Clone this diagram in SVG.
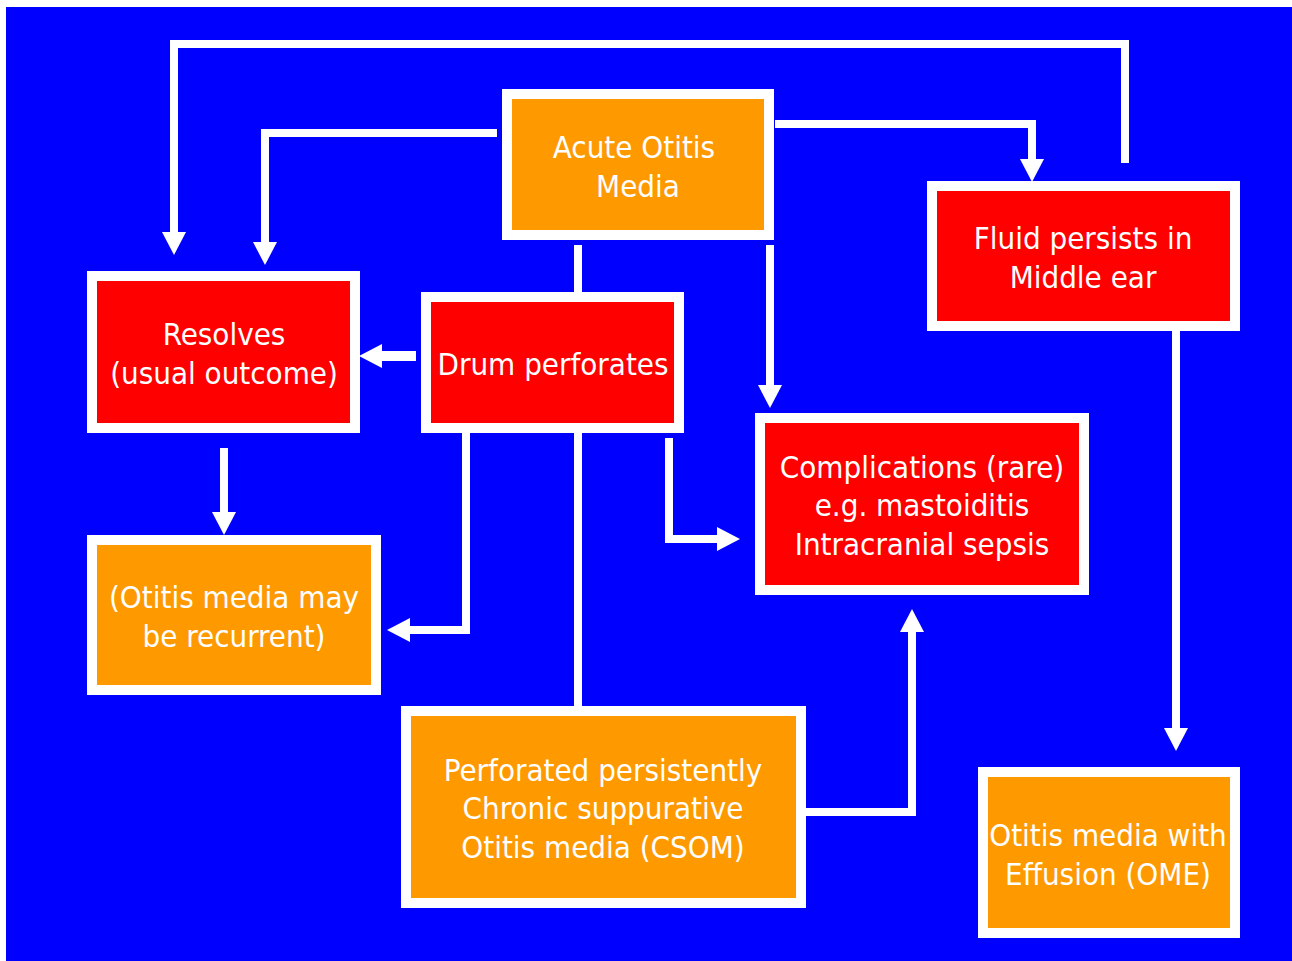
<svg xmlns="http://www.w3.org/2000/svg" width="1292" height="961" viewBox="0 0 1292 961">
<defs>
<style>
.box{stroke:#fff;stroke-width:10}
.org{fill:#FF9900}
.red{fill:#FF0000}
.t{fill:#fff;font-family:"DejaVu Sans Condensed","DejaVu Sans",sans-serif;font-size:31px;text-anchor:middle}
.c{fill:none;stroke:#fff;stroke-width:8}
</style>
<marker id="ah" markerUnits="userSpaceOnUse" markerWidth="24" markerHeight="24" viewBox="0 0 24 24" refX="0" refY="12" orient="auto">
<path d="M0,0 L23,12 L0,24 Z" fill="#fff"/>
</marker>
</defs>
<rect x="0" y="0" width="1292" height="961" fill="#fff"/>
<rect x="6" y="7" width="1286" height="954" fill="#0000FF"/>
<g id="connectors">
<polyline class="c" points="1125,163 1125,44 174,44 174,232" marker-end="url(#ah)"/>
<polyline class="c" points="497,133 265,133 265,242" marker-end="url(#ah)"/>
<polyline class="c" points="775,124 1032,124 1032,159" marker-end="url(#ah)"/>
<line class="c" x1="578" y1="245" x2="578" y2="292"/>
<line class="c" x1="578" y1="433" x2="578" y2="706"/>
<line class="c" x1="770" y1="245" x2="770" y2="385" marker-end="url(#ah)"/>
<line class="c" x1="416" y1="356" x2="382" y2="356" marker-end="url(#ah)" style="stroke-width:10"/>
<polyline class="c" points="466,433 466,630 410,630" marker-end="url(#ah)"/>
<polyline class="c" points="669,438 669,539 717,539" marker-end="url(#ah)"/>
<line class="c" x1="224" y1="448" x2="224" y2="512" marker-end="url(#ah)"/>
<polyline class="c" points="806,812 912,812 912,632" marker-end="url(#ah)"/>
<line class="c" x1="1176" y1="331" x2="1176" y2="728" marker-end="url(#ah)"/>
</g>
<g id="aom">
<rect class="box org" x="507" y="94" width="262" height="141"/>
<text class="t" x="634" y="158">Acute Otitis</text>
<text class="t" x="638" y="197">Media</text>
</g>
<g id="fluid">
<rect class="box red" x="932" y="186" width="303" height="140"/>
<text class="t" x="1083" y="249">Fluid persists in</text>
<text class="t" x="1083" y="288">Middle ear</text>
</g>
<g id="resolves">
<rect class="box red" x="92" y="276" width="263" height="152"/>
<text class="t" x="224" y="345">Resolves</text>
<text class="t" x="224" y="384">(usual outcome)</text>
</g>
<g id="drum">
<rect class="box red" x="426" y="297" width="253" height="131"/>
<text class="t" x="553" y="375">Drum perforates</text>
</g>
<g id="complications">
<rect class="box red" x="760" y="418" width="324" height="172"/>
<text class="t" x="922" y="478">Complications (rare)</text>
<text class="t" x="922" y="516">e.g. mastoiditis</text>
<text class="t" x="922" y="555">Intracranial sepsis</text>
</g>
<g id="recurrent">
<rect class="box org" x="92" y="540" width="284" height="150"/>
<text class="t" x="234" y="608">(Otitis media may</text>
<text class="t" x="234" y="647">be recurrent)</text>
</g>
<g id="csom">
<rect class="box org" x="406" y="711" width="395" height="192"/>
<text class="t" x="603" y="781">Perforated persistently</text>
<text class="t" x="603" y="819">Chronic suppurative</text>
<text class="t" x="603" y="858">Otitis media (CSOM)</text>
</g>
<g id="ome">
<rect class="box org" x="983" y="772" width="252" height="161"/>
<text class="t" x="1108" y="846">Otitis media with</text>
<text class="t" x="1108" y="885">Effusion (OME)</text>
</g>
</svg>
